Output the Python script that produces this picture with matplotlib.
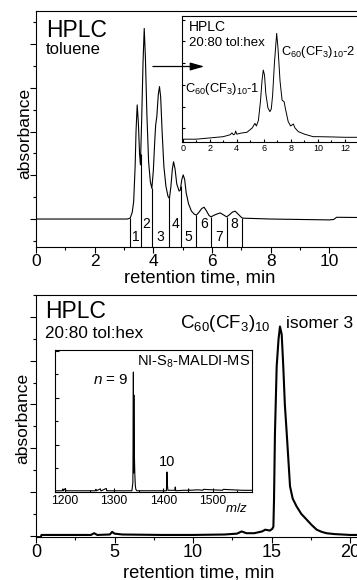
import numpy as np
import matplotlib
matplotlib.use("Agg")
import matplotlib.pyplot as plt
from matplotlib.ticker import MultipleLocator
from matplotlib.patches import FancyArrowPatch

plt.rcParams['font.family'] = ['Liberation Sans', 'DejaVu Sans']
plt.rcParams['mathtext.fontset'] = 'custom'
plt.rcParams['mathtext.rm'] = 'Liberation Sans'
plt.rcParams['mathtext.it'] = 'Liberation Sans:italic'

# ---------------- data ----------------
# top: HPLC in toluene (retention time, min ; absorbance a.u.)
tol_t = [0, 3.1, 3.21, 3.28, 3.33, 3.38, 3.41, 3.45, 3.49, 3.53, 3.56, 3.6, 3.65, 3.69,
         3.73, 3.78, 3.84, 3.9, 3.95, 4.0, 4.05, 4.08, 4.12, 4.17, 4.21, 4.25, 4.3, 4.36,
         4.43, 4.5, 4.55, 4.6, 4.65, 4.69, 4.74, 4.8, 4.88, 4.92, 4.97, 5.02, 5.07, 5.12,
         5.2, 5.3, 5.4, 5.47, 5.55, 5.65, 5.73, 5.8, 5.9, 5.97, 6.05, 6.15, 6.28, 6.38,
         6.5, 6.6, 6.7, 6.79, 6.88, 7.0, 7.05, 8.0, 9.0, 10.0, 10.15, 10.25, 11.0, 12.0]
tol_a = [0, 0, 0.02, 0.15, 0.4, 1.2, 2.0, 2.61, 2.2, 1.5, 1.24, 2.2, 3.6, 4.36,
         3.7, 2.4, 1.3, 0.85, 0.70, 1.1, 1.8, 2.15, 2.35, 2.85, 3.03, 2.8, 2.0, 1.2,
         0.75, 0.52, 0.47, 0.75, 1.15, 1.31, 1.15, 0.8, 0.64, 0.66, 0.9, 1.01, 0.9, 0.6,
         0.35, 0.18, 0.11, 0.09, 0.15, 0.24, 0.27, 0.2, 0.08, 0.05, 0.08, 0.11, 0.14, 0.1,
         0.05, 0.1, 0.16, 0.18, 0.12, 0.04, 0.02, 0.0, -0.01, -0.02, -0.01, 0.04, 0.035, 0.03]
fraction_cuts = [3.21, 3.57, 3.95, 4.55, 4.94, 5.46, 5.98, 6.51, 7.04]
fraction_labels = ["1", "2", "3", "4", "5", "6", "7", "8"]

# top inset: HPLC 20:80 tol:hex
ins_t = [0, 1, 2, 3, 3.5, 3.65, 3.75, 3.85, 3.92, 4.0, 4.3, 4.75, 5.15, 5.34, 5.45,
         5.6, 5.75, 5.87, 5.96, 6.05, 6.15, 6.3, 6.45, 6.55, 6.65, 6.78, 6.95, 7.05,
         7.2, 7.35, 7.5, 7.6, 7.8, 7.98, 8.18, 8.3, 8.55, 9.0, 9.65, 10, 11, 12, 13, 14]
ins_a = [0.2, 0.2, 0.3, 0.4, 0.55, 0.7, 0.55, 0.6, 0.85, 0.6, 0.68, 0.75, 1.1, 1.46, 1.25,
         1.7, 3.2, 4.9, 5.7, 5.3, 3.8, 2.7, 2.39, 2.6, 3.7, 6.2, 8.62, 7.4,
         4.8, 3.3, 3.18, 2.6, 1.6, 1.25, 1.41, 1.1, 0.8, 0.6, 0.4, 0.4, 0.38, 0.35, 0.35, 0.35]

# bottom: HPLC 20:80 tol:hex of C60(CF3)10 isomer 3
hex_t = [0, 0.3, 0.35, 2, 3.5, 3.7, 3.9, 4.7, 4.85, 5.0, 5.5, 8, 10, 12, 12.8, 13.1,
         13.4, 13.9, 14.4, 14.6, 14.9, 15.05, 15.12, 15.16, 15.22, 15.33, 15.45, 15.54,
         15.65, 15.75, 15.85, 15.97, 16.18, 16.35, 16.6, 16.9, 17.24, 17.55, 17.88, 18.2,
         18.5, 19.0, 20, 22]
hex_a = [-0.03, -0.03, 0.02, 0.02, 0.02, 0.06, 0.02, 0.03, 0.09, 0.05, 0.03, 0.02, 0.02,
         0.03, 0.05, 0.1, 0.06, 0.06, 0.1, 0.14, 0.12, 0.16, 0.21, 0.82, 2.34, 3.87, 4.5,
         4.78, 4.6, 3.87, 3.0, 2.34, 1.13, 0.85, 0.67, 0.5, 0.37, 0.25, 0.14, 0.09,
         0.06, 0.04, 0.02, 0.02]

# bottom inset: NI-S8-MALDI mass spectrum
ms_mz = [1180, 1195, 1196, 1197, 1201, 1202, 1203, 1230, 1262, 1263, 1264, 1272, 1273,
         1274, 1284, 1285, 1286, 1336, 1338, 1339, 1339.5, 1340, 1340.5, 1341, 1342,
         1343, 1344, 1346, 1380, 1406, 1407, 1408, 1409, 1423, 1424, 1425, 1440, 1450,
         1451, 1452, 1470, 1480, 1481, 1500, 1520, 1521, 1540, 1560, 1579]
ms_int = [0.02, 0.02, 0.06, 0.02, 0.07, 0.02, 0.02, 0.02, 0.02, 0.05, 0.02, 0.06, 0.02,
          0.02, 0.07, 0.02, 0.02, 0.02, 0.2, 2.55, 0.4, 2.06, 0.5, 0.8, 0.35,
          0.12, 0.05, 0.02, 0.02, 0.02, 0.42, 0.15, 0.03, 0.03, 0.1, 0.02, 0.03, 0.03,
          0.06, 0.03, 0.04, 0.03, 0.05, 0.04, 0.03, 0.05, 0.04, 0.03, 0.03]

# ---------------- figure ----------------
W, H = 357, 580
fig = plt.figure(figsize=(W / 100, H / 100), dpi=100)


def box(l, t, r, b):
    return [l / W, 1 - b / H, (r - l) / W, (b - t) / H]


def T(x, y, s, **kw):
    kw.setdefault('va', 'center')
    kw.setdefault('ha', 'left')
    fig.text(x / W, 1 - y / H, s, **kw)


def style_axes(ax, direction, major_len, minor_len, lw=0.8, lsize=12.5, pad=1.5):
    for sp in ax.spines.values():
        sp.set_linewidth(lw)
    ax.tick_params(which='both', direction=direction, width=lw, labelsize=lsize, pad=pad)
    ax.tick_params(which='major', length=major_len)
    ax.tick_params(which='minor', length=minor_len)
    ax.tick_params(axis='y', labelleft=False)
    ax.tick_params(top=False, right=False)


# ---- top main ----
ax1 = fig.add_axes(box(36, 11, 36 + 11.5 * 29.33, 247))
ax1.plot(tol_t, tol_a, color='black', lw=0.8)
ax1.set_xlim(0, 11.5)
ax1.set_ylim(-0.64, 4.76)
cut_tops = np.interp(fraction_cuts, tol_t, tol_a)
ax1.vlines(fraction_cuts, -0.64, cut_tops, color='black', lw=0.8)
mids = [(a + b) / 2 for a, b in zip(fraction_cuts[:-1], fraction_cuts[1:])]
for i, (m, lab) in enumerate(zip(mids, fraction_labels)):
    ax1.text(m, -0.41 if i % 2 == 0 else -0.11, lab, ha='center', va='center', fontsize=10)
ax1.xaxis.set_major_locator(MultipleLocator(2))
ax1.xaxis.set_minor_locator(MultipleLocator(1))
ax1.yaxis.set_major_locator(MultipleLocator(1))
ax1.yaxis.set_minor_locator(MultipleLocator(0.5))
style_axes(ax1, 'out', 4, 2.2, lsize=12.5, pad=1.2)

# ---- top inset ----
ax2 = fig.add_axes(box(181.7, 16, 181.7 + 13.57 * 13.53, 141.7))
ax2.plot(ins_t, ins_a, color='black', lw=0.7)
ax2.set_xlim(-0.07, 13.5)
ax2.set_ylim(0, 10)
ax2.xaxis.set_major_locator(MultipleLocator(2))
ax2.xaxis.set_minor_locator(MultipleLocator(1))
ax2.yaxis.set_major_locator(MultipleLocator(1.726, offset=1.07))
ax2.yaxis.set_minor_locator(MultipleLocator(100))
style_axes(ax2, 'in', 2.5, 1.5, lw=0.8, lsize=6.5, pad=2)

arrow = FancyArrowPatch((3.89, 3.49), (5.83, 3.49), transform=ax1.transData,
                        arrowstyle='-|>,head_length=0.7,head_width=0.2',
                        mutation_scale=12, color='black', lw=0.9, zorder=5)
fig.add_artist(arrow)

T(46, 30.7, 'HPLC', fontsize=16.5)
T(46, 49.3, 'toluene', fontsize=12)
T(189, 26.7, 'HPLC', fontsize=10)
T(189, 43.3, '20:80 tol:hex', fontsize=9.5)
T(185, 88.5, r'C$_{60}$(CF$_3$)$_{10}$-1', fontsize=9.3)
T(281, 52, r'C$_{60}$(CF$_3$)$_{10}$-2', fontsize=9.3)
T(200, 278, 'retention time, min', fontsize=13.2, ha='center')
T(25, 133, 'absorbance', fontsize=12.5, ha='center', rotation=90)

# ---- bottom main ----
ax3 = fig.add_axes(box(36, 295, 36 + 22 * 15.7, 536.7))
ax3.plot(hex_t, hex_a, color='black', lw=1.5)
ax3.set_xlim(0, 22)
ax3.set_ylim(-0.02, 5.5)
ax3.xaxis.set_major_locator(MultipleLocator(5))
ax3.xaxis.set_minor_locator(MultipleLocator(2.5))
ax3.yaxis.set_major_locator(MultipleLocator(1))
ax3.yaxis.set_minor_locator(MultipleLocator(0.5))
style_axes(ax3, 'out', 4, 2.2, lsize=13, pad=1.2)

# ---- bottom inset ----
ax4 = fig.add_axes(box(55, 350, 251.7, 491.7))
ax4.plot(ms_mz, ms_int, color='black', lw=0.8)
ax4.set_xlim(1180, 1579)
ax4.set_ylim(0, 3.02)
ax4.xaxis.set_major_locator(MultipleLocator(100))
ax4.xaxis.set_minor_locator(MultipleLocator(50))
ax4.yaxis.set_major_locator(MultipleLocator(1))
ax4.yaxis.set_minor_locator(MultipleLocator(0.5))
style_axes(ax4, 'in', 3, 1.8, lw=0.8, lsize=8.8, pad=2.5)

T(45, 311.7, 'HPLC', fontsize=16.5)
T(45, 333.3, '20:80 tol:hex', fontsize=12.3)
T(180, 323.3, r'C$_{60}$(CF$_3$)$_{10}$', fontsize=13.5)
T(286, 323.3, 'isomer 3', fontsize=12.6)
T(250, 361.5, r'NI-S$_8$-MALDI-MS', fontsize=10.5, ha='right')
T(128.5, 380, r'$n$ = 9', fontsize=11, ha='right')
T(167, 461.7, '10', fontsize=10.5, ha='center')
T(225, 509, r'$m/z$', fontsize=9.5)
T(199, 573, 'retention time, min', fontsize=13.2, ha='center')
T(22.5, 418, 'absorbance', fontsize=12.5, ha='center', rotation=90)

fig.savefig('out.png', dpi=100)
